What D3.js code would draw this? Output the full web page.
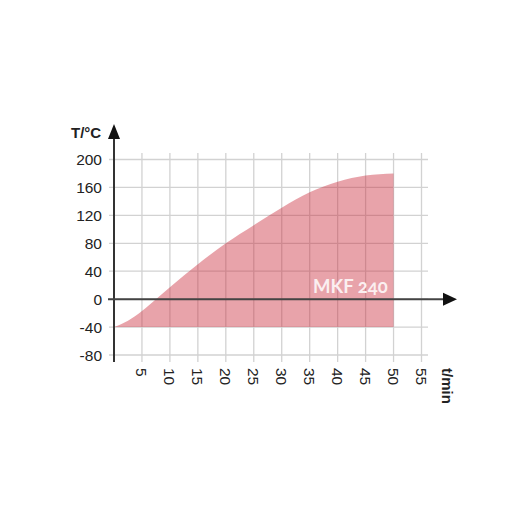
<!DOCTYPE html>
<html>
<head>
<meta charset="utf-8">
<script src="https://cdn.jsdelivr.net/npm/d3@7"></script>
<style>
    body { margin: 0; background: #fff; }
    .tick-label { font-family: "Liberation Sans", Arial, sans-serif; font-size: 15.5px; fill: #222; }
    .axis-title { font-family: "Liberation Sans", Arial, sans-serif; font-size: 15px; font-weight: bold; fill: #222; }
</style>
</head>
<body>
<div id="chart"></div>
<script>
// heat-up curve
var timeMin = [0, 2.5, 5, 7.5, 10, 15, 20, 25, 30, 35, 40, 45, 50];
var tempC = [-40, -31, -17, 0, 17, 50, 80, 106, 131, 153, 168, 177, 180];
var baseTemp = -40;
var xTicks = [5, 10, 15, 20, 25, 30, 35, 40, 45, 50, 55];
var yTicks = [-80, -40, 0, 40, 80, 120, 160, 200];
var seriesName = "MKF 240";

var svg = d3.select("#chart")
    .append("svg")
    .attr("width", 515)
    .attr("height", 515);

var xScale = d3.scaleLinear().domain([0, 55]).range([114, 421.5]);
var yScale = d3.scaleLinear().domain([-80, 200]).range([355, 159.5]);

//grid
var grid = svg.append("g").attr("stroke", "#d2d2d2").attr("stroke-width", 1.3);
grid.selectAll(".vgrid")
    .data(xTicks)
    .enter()
    .append("line")
    .attr("x1", function (d) { return xScale(d); })
    .attr("x2", function (d) { return xScale(d); })
    .attr("y1", 153)
    .attr("y2", 362);
grid.selectAll(".hgrid")
    .data(yTicks)
    .enter()
    .append("line")
    .attr("x1", 109)
    .attr("x2", 428)
    .attr("y1", function (d) { return yScale(d); })
    .attr("y2", function (d) { return yScale(d); });

//area between -40 and the curve
var points = timeMin.map(function (t, i) { return [t, tempC[i]]; });
var area = d3.area()
    .x(function (d) { return xScale(d[0]); })
    .y0(yScale(baseTemp))
    .y1(function (d) { return yScale(d[1]); })
    .curve(d3.curveMonotoneX);

svg.append("path")
    .datum(points)
    .attr("d", area)
    .attr("fill", "rgb(201,41,57)")
    .attr("fill-opacity", 0.43);

//axes with arrows
svg.append("line")
    .attr("x1", xScale(0))
    .attr("x2", xScale(0))
    .attr("y1", 362)
    .attr("y2", 136)
    .attr("stroke", "#333")
    .attr("stroke-width", 2);
svg.append("path")
    .attr("d", "M" + xScale(0) + ",124 L" + (xScale(0) - 6) + ",139 L" + (xScale(0) + 6) + ",139 Z")
    .attr("fill", "#111");

svg.append("line")
    .attr("x1", 108)
    .attr("x2", 445)
    .attr("y1", yScale(0))
    .attr("y2", yScale(0))
    .attr("stroke", "#444")
    .attr("stroke-width", 2);
svg.append("path")
    .attr("d", "M457," + yScale(0) + " L443," + (yScale(0) - 6.5) + " L443," + (yScale(0) + 6.5) + " Z")
    .attr("fill", "#111");

//tick labels
svg.selectAll(".ylab")
    .data(yTicks)
    .enter()
    .append("text")
    .attr("class", "tick-label")
    .attr("x", 102)
    .attr("y", function (d) { return yScale(d); })
    .attr("dy", "0.36em")
    .attr("text-anchor", "end")
    .text(function (d) { return d; });

svg.selectAll(".xlab")
    .data(xTicks)
    .enter()
    .append("text")
    .attr("class", "tick-label")
    .attr("transform", function (d) { return "translate(" + xScale(d) + ",368) rotate(90)"; })
    .attr("dy", "0.36em")
    .text(function (d) { return d; });

//axis titles
svg.append("text")
    .attr("class", "axis-title")
    .attr("x", 71)
    .attr("y", 138)
    .text("T/°C");

svg.append("text")
    .attr("class", "axis-title")
    .attr("transform", "translate(447,368) rotate(90)")
    .attr("dy", "0.36em")
    .text("t/min");

//series label
svg.append("text")
    .attr("x", 313)
    .attr("y", 293)
    .attr("font-family", "Lato, 'Open Sans', sans-serif")
    .attr("font-weight", "bold")
    .attr("font-size", 18.5)
    .style("font-feature-settings", "'onum' 1")
    .attr("fill", "#fbeff0")
    .text(seriesName);
</script>
</body>
</html>
